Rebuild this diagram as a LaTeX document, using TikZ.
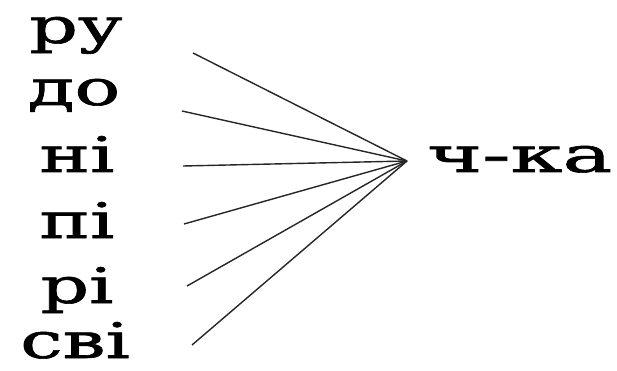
\documentclass[tikz,border=0pt]{standalone}
\usepackage{fontspec}
\newfontfamily\wfont[FakeBold=1.2]{DejaVu Serif}
\newcommand{\wordleft}[1]{\scalebox{1.55}[1]{#1}}
\newcommand{\wordright}[1]{\scalebox{1.7}[1]{#1}}
\begin{document}
\begin{tikzpicture}[x=1pt,y=-1pt,
  word/.style={anchor=base,inner sep=0pt,font=\fontsize{49}{50}\wfont},
  ray/.style={line width=1.4pt,black!85}]
\useasboundingbox (0,0) rectangle (617,371);
\fill[white] (0,0) rectangle (617,371);
\node[word] (w1) at (76,43) {\wordleft{ру}};
\node[word] (w2) at (74,105) {\wordleft{до}};
\node[word] (w3) at (77,172) {\wordleft{ні}};
\node[word] (w4) at (77,238) {\wordleft{пі}};
\node[word] (w5) at (77,303) {\wordleft{рі}};
\node[word] (w6) at (75,358) {\wordleft{сві}};
\node[word,anchor=base west] (r) at (427,172) {\wordright{ч-ка}};
\coordinate (hub) at (407,161);
\coordinate (s1) at (193,53);
\coordinate (s2) at (182,111);
\coordinate (s3) at (183,166);
\coordinate (s4) at (184,224);
\coordinate (s5) at (187,286);
\coordinate (s6) at (192,345);
\foreach \i in {1,...,6} \draw[ray] (s\i) -- (hub);
\end{tikzpicture}
\end{document}
